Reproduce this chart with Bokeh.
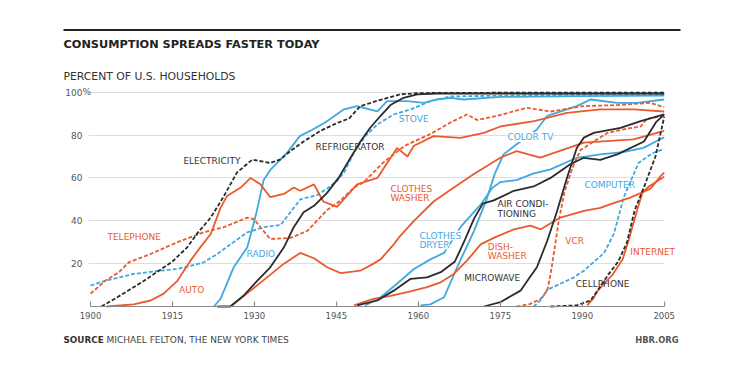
from bokeh.plotting import figure
from bokeh.models import Range1d, LinearAxis, FixedTicker, Grid, Label
from bokeh.embed import file_html
from bokeh.resources import INLINE

# ---------------- data (percent of U.S. households) ----------------
year_ticks = [1900, 1915, 1930, 1945, 1960, 1975, 1990, 2005]
pct_ticks = [20, 40, 60, 80, 100]

electricity_year = [1902, 1904.9, 1909.8, 1915, 1917.7, 1919.5, 1922, 1924.3, 1926.8, 1929.6, 1932.9, 1934.8,
                    1936.6, 1939, 1942.1, 1945.2, 1947.3, 1949.4, 1952.5, 1956.7, 1960, 1980, 2005]
electricity_pct = [0, 4.3, 12, 21, 27.6, 34, 41.5, 51, 62.5, 68.5, 67, 68.7,
                   72.6, 77, 82, 85.7, 87.7, 93.5, 96, 99, 99.6, 99.8, 99.8]

telephone_year = [1900, 1902.7, 1905.2, 1907, 1911, 1915.9, 1920.7, 1924.4, 1928.7, 1929.9, 1931.1, 1932.9,
                  1936.6, 1939.7, 1943.3, 1945.8, 1948.2, 1950, 1953.5, 1957.5, 1962.2, 1966, 1968.9, 1970.8,
                  1974.4, 1979.9, 1984.2, 1990.2, 1996.4, 2002.5, 2005]
telephone_pct = [6, 12, 16, 20.6, 24.5, 30, 34.6, 37, 41.5, 40.8, 37, 31.5,
                 32, 35.3, 45, 49.5, 55.5, 58, 67, 75, 80.5, 86, 89.6, 87,
                 89, 92.7, 91, 93.5, 94, 95, 93]

auto_year = [1903, 1907.9, 1911, 1913.4, 1915.9, 1918.3, 1920.1, 1922, 1923.8, 1925, 1927.5, 1929.3,
             1931.1, 1932.9, 1935.4, 1937.2, 1938.4, 1940.9, 1942.6, 1945.1, 1948.8, 1952.5, 1956.1, 1958,
             1959.2, 1962.8, 1967.7, 1972, 1975, 1981.2, 1987.2, 1993.3, 1999.4, 2005]
auto_pct = [0, 1, 2.8, 6, 12, 21.4, 27.6, 33.8, 46, 51.6, 55.5, 60,
            57, 51, 52.5, 55.5, 54, 57, 49, 46.5, 57, 60, 74, 70,
            75, 79.5, 78.7, 81, 84, 86.5, 90.4, 92, 92, 91]

radio_year = [1922.6, 1923.8, 1926.2, 1928.7, 1930.3, 1931.7, 1933, 1936, 1938.3, 1940.6, 1943, 1946.4,
              1948.8, 1950, 1952.5, 1954.3, 1958, 1961, 1963.4, 1965.9, 1968.3, 1975, 1990, 2005]
radio_pct = [0, 3.6, 18.3, 27.6, 43, 59, 64, 71.8, 79.5, 82.5, 86, 92,
             93.5, 92.7, 91, 95.8, 95.8, 95, 96.6, 97.4, 96.6, 97.8, 98.2, 98.4]

refrigerator_year = [1923.2, 1925.6, 1928, 1930.5, 1932.9, 1935.4, 1937.2, 1939, 1940.9, 1943.3, 1945.4,
                     1947.6, 1949.4, 1951.2, 1953.1, 1954.9, 1957.3, 1959.8, 1963.4, 2005]
refrigerator_pct = [0, 0, 5, 12, 18.3, 27.6, 37, 44, 47, 53, 60,
                    69.4, 77, 83.4, 89, 94, 97.4, 99, 99.4, 99.4]

stove_year = [1900, 1902.7, 1907.9, 1912.8, 1915.9, 1918.3, 1920.7, 1923.2, 1925.6, 1928.7, 1931.7, 1934.8,
              1936.6, 1938.4, 1941.5, 1943.3, 1945.1, 1946.4, 1948.2, 1950.3, 1952.5, 1955.5, 1958.6, 1962.2,
              1965.9, 1980, 2005]
stove_pct = [9.8, 12, 15.2, 16.7, 17.5, 19, 20.6, 24.5, 29, 34.6, 37, 38,
             44, 50, 52, 55, 58.6, 62.5, 71.8, 79.5, 85, 89.6, 92, 95.8,
             98, 98.6, 99]

washer_year = [1925.6, 1929.3, 1932.3, 1935.4, 1938.4, 1940.9, 1943.3, 1945.8, 1949.4, 1951.8, 1953.1, 1955.5,
               1956.7, 1959.2, 1962.8, 1966.5, 1970.1, 1975, 1978, 1982.3, 1990.3, 1999.4, 2005]
washer_pct = [0, 7.4, 13.6, 20, 25, 22.5, 18.3, 15.6, 16.7, 20, 22, 29,
              33, 40, 49, 55.5, 61.7, 69.4, 72.5, 69.5, 76.5, 78, 82]

dryer_year = [1950.3, 1953.1, 1956.1, 1959.2, 1962.2, 1964.7, 1967.7, 1971.4, 1973.6, 1975, 1978, 1981,
              1984.2, 1989, 1993.3, 1997.5, 2001.2, 2005]
dryer_pct = [0.5, 4.3, 10.6, 17.5, 22, 25, 37, 47.5, 55.5, 58, 59, 62,
             64, 69.4, 71, 72, 74, 79]

colortv_year = [1960.4, 1962.2, 1964.7, 1967.1, 1970.2, 1972.5, 1974, 1975.6, 1978, 1981.7, 1983.6, 1989,
                1991.5, 1996.4, 2000, 2005]
colortv_pct = [0.5, 1, 4.3, 18.3, 35.3, 50, 62, 71, 75.7, 82.6, 89, 93.5,
               96.6, 95, 95, 96.6]

aircon_year = [1948.8, 1952.5, 1955.5, 1958.6, 1961.6, 1964.1, 1966.7, 1968.5, 1970.2, 1971.8, 1973.8, 1977.5,
               1981.1, 1984.2, 1987.8, 1990.3, 1993.3, 1996.4, 2001.3, 2003.5, 2005]
aircon_pct = [0.5, 2.8, 7.4, 12.9, 13.6, 16, 21, 31, 41, 48, 49.5, 54,
              56, 60, 66.4, 69.4, 68.4, 71, 77, 86, 89.5]

dishwasher_year = [1948.2, 1951.8, 1954.9, 1958, 1961.6, 1964.1, 1966.5, 1968.9, 1971.4, 1973.8, 1977.5, 1980.5,
                   1982.4, 1986, 1990.3, 1993.3, 1995.2, 1998.8, 2002.5, 2004.4, 2005]
dishwasher_pct = [0.5, 3.6, 5, 6.7, 9, 11.3, 15.2, 21.4, 29, 32, 36, 37.7,
                  36, 41.5, 44.6, 46, 47.8, 50.8, 55, 61, 62.5]

microwave_year = [1972, 1975, 1978.7, 1980.5, 1981.7, 1983.6, 1985.4, 1987.2, 1989, 1990.3, 1992.1, 1997,
                  2000.7, 2005]
microwave_pct = [0, 2, 7.4, 14, 18.3, 30.7, 44.6, 60, 74, 78.8, 81, 83.4,
                 86.5, 89.6]

vcr_year = [1978, 1980.5, 1982.4, 1983.6, 1984.2, 1985, 1985.7, 1986.8, 1988.4, 1989.7, 1992.1, 1994.6,
            1998.2, 2000.7, 2001.8, 2005]
vcr_pct = [0, 1.2, 3.6, 7.4, 15, 28, 40, 54, 66, 73, 77, 81,
           83, 84, 87.5, 89]

computer_year = [1981.1, 1982.4, 1983.6, 1988.5, 1990.3, 1994, 1995.8, 1997.6, 2000.3, 2002.8, 2005]
computer_pct = [0, 3, 7.8, 13.6, 16.7, 25, 34, 51, 67, 71.5, 73.5]

cellphone_year = [1984.2, 1989, 1991.5, 1992.7, 1994.8, 1996.6, 1998.2, 1999.6, 2001.2, 2003.4, 2005]
cellphone_pct = [0, 0.5, 2.8, 7, 15, 21, 30, 45, 55, 70, 88.5]

internet_year = [1990.9, 1992.1, 1992.7, 1995.6, 1997.4, 1998.5, 2000, 2001, 2002.2, 2003.7, 2005]
internet_pct = [0.5, 4, 7, 15, 22, 31, 44.6, 53, 56, 58.5, 60.5]

# ---------------- styles ----------------
ORANGE = "#EA5A2E"
BLUE = "#3FA9DF"
DARK = "#2B2B2B"
TEXT_DARK = "#333333"
FONT = "DejaVu Sans"

series = [
    (stove_year, stove_pct, BLUE, "4 2"),
    (radio_year, radio_pct, BLUE, "solid"),
    (colortv_year, colortv_pct, BLUE, "solid"),
    (dryer_year, dryer_pct, BLUE, "solid"),
    (computer_year, computer_pct, BLUE, "4 2"),
    (telephone_year, telephone_pct, ORANGE, "4 2"),
    (auto_year, auto_pct, ORANGE, "solid"),
    (washer_year, washer_pct, ORANGE, "solid"),
    (dishwasher_year, dishwasher_pct, ORANGE, "solid"),
    (vcr_year, vcr_pct, ORANGE, "4 2"),
    (internet_year, internet_pct, ORANGE, "solid"),
    (electricity_year, electricity_pct, DARK, "4 2"),
    (refrigerator_year, refrigerator_pct, DARK, "solid"),
    (aircon_year, aircon_pct, DARK, "solid"),
    (microwave_year, microwave_pct, DARK, "solid"),
    (cellphone_year, cellphone_pct, DARK, "4 2"),
]

# series labels: (text, year, pct, color, white background)
series_labels = [
    ("ELECTRICITY", 1917.0, 68.1, TEXT_DARK, False),
    ("TELEPHONE", 1903.1, 32.4, ORANGE, False),
    ("AUTO", 1916.2, 7.9, ORANGE, False),
    ("RADIO", 1928.55, 24.5, BLUE, False),
    ("REFRIGERATOR", 1941.2, 74.2, TEXT_DARK, False),
    ("STOVE", 1956.4, 87.3, BLUE, False),
    ("CLOTHES", 1954.9, 54.8, ORANGE, False),
    ("WASHER", 1954.9, 50.6, ORANGE, False),
    ("COLOR TV", 1976.3, 79.1, BLUE, True),
    ("CLOTHES", 1960.2, 33.1, BLUE, True),
    ("DRYER", 1960.2, 28.9, BLUE, True),
    ("AIR CONDI-", 1974.5, 47.8, TEXT_DARK, False),
    ("TIONING", 1974.5, 43.2, TEXT_DARK, False),
    ("DISH-", 1972.7, 27.8, ORANGE, False),
    ("WASHER", 1972.7, 23.6, ORANGE, False),
    ("MICROWAVE", 1968.4, 13.3, TEXT_DARK, False),
    ("VCR", 1986.9, 30.6, ORANGE, False),
    ("COMPUTER", 1990.4, 56.5, BLUE, False),
    ("INTERNET", 1998.8, 25.2, ORANGE, False),
    ("CELLPHONE", 1988.8, 10.7, TEXT_DARK, False),
]

# ---------------- layout: whole canvas is the frame ----------------
W, H = 748, 372
PX_PER_YEAR = 5.4638
PX_PER_PCT = 2.143
X0_CANVAS = 90     # canvas x where 1900 sits
Y0_CANVAS = 306    # canvas y where 0% sits

x_start = 1900 - X0_CANVAS / PX_PER_YEAR
x_end = x_start + W / PX_PER_YEAR
y_end = Y0_CANVAS / PX_PER_PCT
y_start = y_end - H / PX_PER_PCT


def cx(px):
    return x_start + px / PX_PER_YEAR


def cy(py):
    return (Y0_CANVAS - py) / PX_PER_PCT


p = figure(width=W, height=H, x_range=Range1d(x_start, x_end), y_range=Range1d(y_start, y_end),
           output_backend="svg", toolbar_location=None, x_axis_location=None, y_axis_location=None,
           min_border=0, outline_line_color=None, title=None,
           background_fill_color="white", border_fill_color="white")
p.center = []

# gridlines
ygrid = Grid(dimension=1, ticker=FixedTicker(ticks=pct_ticks), cross_bounds=(1899.6, 2005),
             grid_line_color="#dedede", grid_line_width=1)
p.add_layout(ygrid)

# axes
xaxis = LinearAxis(fixed_location=0, bounds=(1900, 2005), ticker=FixedTicker(ticks=year_ticks),
                   major_tick_in=5, major_tick_out=0, minor_tick_line_color=None,
                   axis_line_color="#8c8c8c", axis_line_width=1.2, major_tick_line_color="#8c8c8c",
                   major_tick_line_width=1.2,
                   major_label_text_color="#555555", major_label_text_font=FONT,
                   major_label_text_font_size="8.5px", major_label_standoff=5)
p.add_layout(xaxis, "below")

yaxis = LinearAxis(fixed_location=1900, ticker=FixedTicker(ticks=pct_ticks),
                   axis_line_color=None, major_tick_line_color=None, minor_tick_line_color=None,
                   major_tick_in=0, major_tick_out=0,
                   major_label_text_color="#555555", major_label_text_font=FONT,
                   major_label_text_font_size="9px", major_label_standoff=8)
p.add_layout(yaxis, "left")

p.add_layout(Label(x=1900, y=100, x_offset=-8, text="%", text_align="left", text_baseline="middle",
                   text_color="#555555", text_font=FONT, text_font_size="9px"))

# lines
for yrs, vals, col, dash in series:
    p.line(yrs, vals, line_color=col, line_width=1.8, line_dash=dash)

# series labels
for txt, yr, pc, col, bg in series_labels:
    kw = dict(background_fill_color="white") if bg else {}
    p.add_layout(Label(x=yr, y=pc, text=txt, text_align="left", text_baseline="middle",
                       text_color=col, text_font=FONT, text_font_size="9px", **kw))

# header and footer
p.line([cx(63), cx(680)], [cy(29.5), cy(29.5)], line_color="#222222", line_width=2)
p.add_layout(Label(x=cx(63), y=cy(44), text="CONSUMPTION SPREADS FASTER TODAY", text_align="left",
                   text_baseline="middle", text_color="#222222", text_font=FONT,
                   text_font_style="bold", text_font_size="11.3px"))
p.add_layout(Label(x=cx(63), y=cy(75.5), text="PERCENT OF U.S. HOUSEHOLDS", text_align="left",
                   text_baseline="middle", text_color="#333333", text_font=FONT, text_font_size="10.8px"))
p.add_layout(Label(x=cx(63), y=cy(339), text="SOURCE", text_align="left", text_baseline="middle",
                   text_color="#333333", text_font=FONT, text_font_style="bold", text_font_size="8.8px"))
p.add_layout(Label(x=cx(106), y=cy(339), text="MICHAEL FELTON, THE NEW YORK TIMES", text_align="left",
                   text_baseline="middle", text_color="#444444", text_font=FONT, text_font_size="9px"))
p.add_layout(Label(x=cx(678), y=cy(339), text="HBR.ORG", text_align="right", text_baseline="middle",
                   text_color="#555555", text_font=FONT, text_font_style="bold", text_font_size="8.3px"))

open("out.html", "w").write(file_html(p, INLINE))
